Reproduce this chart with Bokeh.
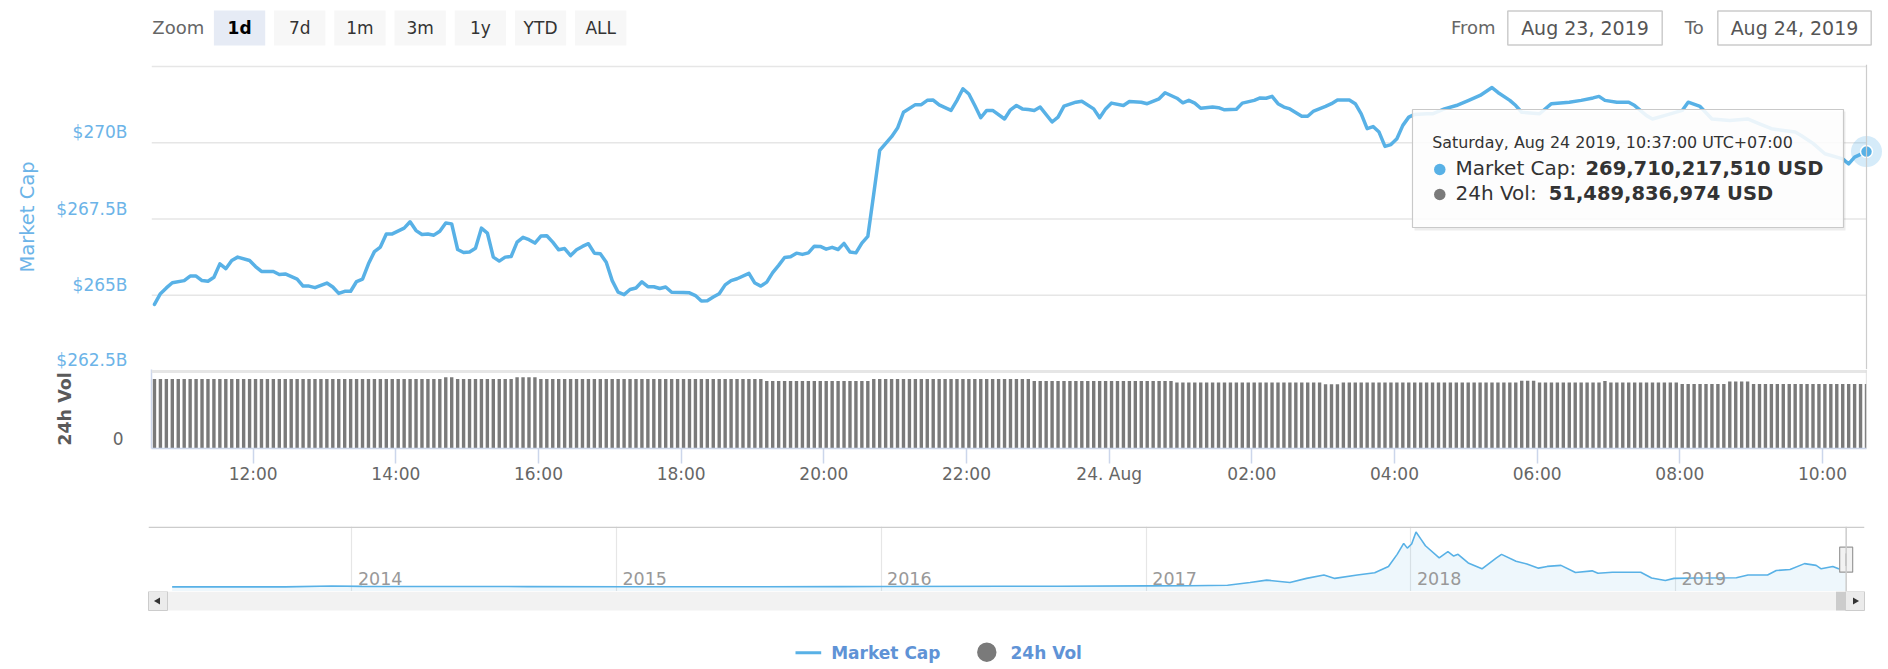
import datetime as dt
from bokeh.plotting import figure
from bokeh.models import (Range1d, FixedTicker, LabelSet, ColumnDataSource, Span, Grid, LinearAxis)
from bokeh.layouts import column
from bokeh.embed import file_html
from bokeh.resources import INLINE
from bokeh.core.properties import value

# ------------------------------------------------------------------ data
start_time = dt.datetime(2019, 8, 23, 10, 37)   # first point (UTC+07:00 local)
end_time = dt.datetime(2019, 8, 24, 10, 37)

# market cap (billions USD), minutes after start_time
mcap_offset_min = [
    0, 5, 10, 15, 25, 30, 35, 40, 45, 50, 55, 60, 65, 70, 80, 85, 90, 100, 105, 110,
    120, 125, 130, 135, 145, 150, 155, 160, 165, 170, 175, 180, 185, 190, 195, 200,
    210, 215, 220, 225, 230, 235, 240, 245, 250, 255, 260, 265, 270, 275, 280, 285,
    290, 295, 300, 305, 310, 315, 320, 325, 330, 335, 340, 345, 350, 355, 360, 365,
    370, 375, 380, 385, 390, 395, 400, 405, 410, 415, 420, 425, 430, 435, 445, 450,
    455, 460, 465, 470, 475, 480, 485, 490, 500, 505, 510, 515, 520, 525, 530, 535,
    540, 545, 550, 555, 560, 565, 570, 575, 580, 585, 590, 595, 600, 605, 610, 620,
    625, 630, 640, 645, 650, 655, 660, 670, 675, 680, 685, 690, 695, 700, 705, 715,
    720, 725, 730, 735, 740, 745, 755, 760, 765, 775, 780, 790, 795, 800, 805, 815,
    820, 830, 835, 845, 850, 860, 865, 870, 875, 880, 890, 895, 900, 910, 915, 925,
    930, 935, 940, 945, 950, 955, 965, 970, 975, 985, 990, 995, 1005, 1010, 1015, 1020,
    1025, 1030, 1035, 1040, 1045, 1050, 1055, 1060, 1070, 1075, 1085, 1095, 1100, 1105,
    1115, 1125, 1130, 1140, 1145, 1150, 1165, 1175, 1190, 1200, 1210, 1215, 1220, 1230,
    1240, 1245, 1255, 1260, 1270, 1285, 1290, 1300, 1310, 1325, 1340, 1350, 1360, 1380,
    1385, 1395, 1405, 1420, 1425, 1430, 1440,
]
mcap_billion = [
    264.70, 265.05, 265.24, 265.41, 265.48, 265.63, 265.63, 265.48, 265.46, 265.59, 266.03, 265.87, 266.14, 266.25, 266.14, 265.94, 265.78, 265.78, 265.68, 265.70,
    265.53, 265.30, 265.30, 265.25, 265.40, 265.27, 265.06, 265.13, 265.13, 265.45, 265.53, 266.03, 266.43, 266.58, 267.01, 267.01,
    267.20, 267.41, 267.12, 266.99, 267.01, 266.97, 267.10, 267.37, 267.34, 266.50, 266.40, 266.42, 266.54, 267.20, 267.04, 266.25,
    266.12, 266.25, 266.27, 266.74, 266.90, 266.82, 266.71, 266.94, 266.95, 266.74, 266.49, 266.53, 266.30, 266.49, 266.60, 266.69,
    266.38, 266.36, 266.08, 265.48, 265.10, 265.02, 265.19, 265.24, 265.44, 265.28, 265.28, 265.22, 265.27, 265.10, 265.09, 265.08,
    264.99, 264.81, 264.82, 264.94, 265.05, 265.34, 265.48, 265.54, 265.72, 265.40, 265.30, 265.43, 265.74, 265.98, 266.24, 266.26,
    266.38, 266.34, 266.39, 266.61, 266.60, 266.51, 266.57, 266.50, 266.70, 266.42, 266.39, 266.71, 266.93, 268.33, 269.75, 270.20,
    270.48, 271.00, 271.25, 271.25, 271.39, 271.40, 271.24, 271.06, 271.39, 271.77, 271.60, 271.22, 270.82, 271.06, 271.06, 270.78,
    271.08, 271.22, 271.11, 271.09, 271.06, 271.17, 270.68, 270.84, 271.20, 271.33, 271.36, 271.11, 270.82, 271.11, 271.30, 271.22,
    271.35, 271.33, 271.28, 271.44, 271.64, 271.46, 271.31, 271.39, 271.30, 271.13, 271.17, 271.15, 271.08, 271.10, 271.30, 271.39,
    271.47, 271.46, 271.52, 271.28, 271.17, 271.11, 270.87, 270.87, 271.04, 271.19, 271.28, 271.40, 271.40, 271.28, 270.95, 270.46,
    270.53, 270.35, 269.88, 269.94, 270.13, 270.57, 270.84, 270.93, 270.95, 270.95, 271.11, 271.22, 271.30, 271.38,
    271.55, 271.81, 271.65, 271.39, 271.22, 271.00, 270.95, 271.28, 271.33, 271.39, 271.47, 271.52, 271.39, 271.33,
    271.33, 271.22, 270.89, 270.78, 270.89, 271.06, 271.33, 271.19, 270.78, 270.73, 270.78, 270.62, 270.46, 270.35,
    270.24, 269.98, 269.64, 269.47, 269.31, 269.53, 269.710217510,
]

# 24h volume (billions USD), one bar every 5 minutes from start_time
vol_step_min = 5
vol_billion = [
    55.4, 55.4, 55.4, 55.4, 55.4, 55.4, 55.4, 55.4, 55.4, 55.4, 55.4, 55.4,
    55.4, 55.4, 55.4, 55.4, 55.4, 55.4, 55.4, 55.4, 55.4, 55.4, 55.4, 55.4,
    55.4, 55.4, 55.4, 55.4, 55.4, 55.4, 55.4, 55.4, 55.4, 55.4, 55.4, 55.4,
    55.4, 55.4, 55.4, 55.4, 55.4, 55.4, 55.4, 55.4, 55.4, 55.4, 55.4, 55.4,
    55.4, 56.8, 56.8, 55.4, 55.4, 55.4, 55.4, 55.4, 55.4, 55.4, 55.4, 55.4,
    55.4, 56.8, 56.8, 56.8, 56.8, 55.4, 55.4, 55.4, 55.4, 55.4, 55.4, 55.4,
    55.4, 55.4, 55.4, 55.4, 55.4, 55.4, 55.4, 55.4, 55.4, 55.4, 55.4, 55.4,
    55.4, 55.4, 55.4, 55.4, 55.4, 55.4, 55.4, 55.4, 55.4, 55.4, 55.4, 55.4,
    55.4, 55.4, 55.4, 55.4, 55.4, 55.4, 55.4, 53.9, 53.9, 53.9, 53.9, 53.9,
    53.9, 53.9, 53.9, 53.9, 53.9, 53.9, 53.9, 53.9, 53.9, 53.9, 53.9, 53.9,
    53.9, 55.4, 55.4, 55.4, 55.4, 55.4, 55.4, 55.4, 55.4, 55.4, 55.4, 55.4,
    55.4, 55.4, 55.4, 55.4, 55.4, 55.4, 55.4, 55.4, 55.4, 55.4, 55.4, 55.4,
    55.4, 55.4, 55.4, 55.4, 53.9, 53.9, 53.9, 53.9, 53.9, 53.9, 53.9, 53.9,
    53.9, 53.9, 53.9, 53.9, 53.9, 53.9, 53.9, 53.9, 53.9, 53.9, 53.9, 53.9,
    53.9, 53.9, 53.9, 53.9, 52.6, 52.6, 52.6, 52.6, 52.6, 52.6, 52.6, 52.6,
    52.6, 52.6, 52.6, 52.6, 52.6, 52.6, 52.6, 52.6, 52.6, 52.6, 52.6, 52.6,
    52.6, 52.6, 52.6, 52.6, 52.6, 51.3, 51.3, 51.3, 52.6, 52.6, 52.6, 52.6,
    52.6, 52.6, 52.6, 52.6, 52.6, 52.6, 52.6, 52.6, 52.6, 52.6, 52.6, 52.6,
    52.6, 52.6, 52.6, 52.6, 52.6, 52.6, 52.6, 52.6, 52.6, 52.6, 52.6, 52.6,
    52.6, 52.6, 54.0, 54.0, 54.0, 52.6, 52.6, 52.6, 52.6, 52.6, 52.6, 52.6,
    52.6, 52.6, 52.6, 52.6, 53.8, 52.6, 52.6, 52.6, 52.6, 52.6, 52.6, 52.6,
    52.6, 52.6, 52.6, 52.6, 52.6, 51.5, 51.5, 51.5, 51.5, 51.5, 51.5, 51.5,
    51.5, 53.5, 53.5, 53.5, 53.5, 51.5, 51.5, 51.5, 51.5, 51.5, 51.5, 51.5,
    51.5, 51.5, 51.5, 51.5, 51.5, 51.5, 51.5, 51.5, 51.5, 51.5, 51.5, 51.5,
    51.49,
]

tooltip_mcap_usd = 269710217510
tooltip_vol_usd = 51489836974

y_ticks = [262.5, 265.0, 267.5, 270.0]
y_tick_labels = ["$262.5B", "$265B", "$267.5B", "$270B"]
y_grid_ticks = [262.5, 265.0, 267.5, 270.0, 272.5]
vol_ticks = [0.0]
vol_tick_labels = ["0"]

x_tick_times = [
    dt.datetime(2019, 8, 23, 12), dt.datetime(2019, 8, 23, 14), dt.datetime(2019, 8, 23, 16),
    dt.datetime(2019, 8, 23, 18), dt.datetime(2019, 8, 23, 20), dt.datetime(2019, 8, 23, 22),
    dt.datetime(2019, 8, 24, 0), dt.datetime(2019, 8, 24, 2), dt.datetime(2019, 8, 24, 4),
    dt.datetime(2019, 8, 24, 6), dt.datetime(2019, 8, 24, 8), dt.datetime(2019, 8, 24, 10),
]
x_tick_labels = ["12:00", "14:00", "16:00", "18:00", "20:00", "22:00", "24. Aug",
                 "02:00", "04:00", "06:00", "08:00", "10:00"]

# navigator: total market cap history (billions USD)
nav_dates = [
    "2013-04-28", "2013-10-01", "2013-12-04", "2014-01-15", "2014-03-01", "2014-06-01",
    "2014-09-01", "2015-01-15", "2015-06-01", "2015-11-05", "2016-01-01", "2016-06-18",
    "2016-09-01", "2017-01-01", "2017-03-01", "2017-04-23", "2017-05-24", "2017-06-16",
    "2017-07-18", "2017-08-10", "2017-09-03", "2017-09-18", "2017-10-19", "2017-11-12",
    "2017-12-01", "2017-12-13", "2017-12-22", "2017-12-27", "2018-01-02", "2018-01-08",
    "2018-01-15", "2018-01-21", "2018-02-09", "2018-02-21", "2018-03-01", "2018-03-07",
    "2018-03-21", "2018-04-09", "2018-04-29", "2018-05-06", "2018-05-26", "2018-06-10",
    "2018-06-26", "2018-07-08", "2018-07-27", "2018-08-16", "2018-09-08", "2018-09-16",
    "2018-10-06", "2018-11-14", "2018-11-29", "2018-12-18", "2018-12-30", "2019-01-31",
    "2019-03-26", "2019-04-11", "2019-05-08", "2019-05-20", "2019-06-08", "2019-06-28",
    "2019-07-14", "2019-07-21", "2019-08-06", "2019-08-14", "2019-08-24",
]
nav_billion = [
    1.5, 2, 14, 10, 7, 8,
    6, 3.5, 3.6, 6, 7, 12,
    11, 17, 20, 26, 67, 104,
    67, 130, 182, 130, 182, 216,
    310, 493, 659, 587, 649, 830,
    720, 623, 441, 534, 467, 493,
    363, 275, 441, 493, 389, 347,
    285, 311, 327, 218, 244, 207,
    223, 223, 135, 98, 130, 135,
    140, 182, 182, 249, 265, 353,
    327, 275, 311, 275, 270,
]
nav_years = [2014, 2015, 2016, 2017, 2018, 2019]

zoom_buttons = ["1d", "7d", "1m", "3m", "1y", "YTD", "ALL"]
selected_button = "1d"
range_from = "Aug 23, 2019"
range_to = "Aug 24, 2019"
series_names = ["Market Cap", "24h Vol"]

# ------------------------------------------------------------------ helpers / style
EPOCH = dt.datetime(1970, 1, 1)


def ms(t):
    return (t - EPOCH).total_seconds() * 1000.0


W = 1888
FONT = "DejaVu Sans"
LINE = "#58b1e6"
BLUE_TXT = "#6cb4e8"
GRAY_TXT = "#666666"
DARK_TXT = "#333333"
VOL_COLOR = "#7a7a7a"
GRID = "#e6e6e6"
AXIS = "#ccd6eb"
LEGEND_TXT = "#5f93d6"

mcap_times = [start_time + dt.timedelta(minutes=m) for m in mcap_offset_min]
vol_times = [start_time + dt.timedelta(minutes=vol_step_min * i) for i in range(len(vol_billion))]


def bare(p):
    p.outline_line_color = None
    p.background_fill_color = "white"
    p.border_fill_color = "white"
    for g in p.grid:
        g.visible = False
    return p


def common(**kw):
    base = dict(width=W, toolbar_location=None, output_backend="svg", frame_align=False)
    base.update(kw)
    return base


# ------------------------------------------------------------------ top bar (range selector)
top = figure(**common(height=56, x_range=Range1d(0, W), y_range=Range1d(56, 0),
                      x_axis_location=None, y_axis_location=None, min_border=0))
bare(top)
top.text(x=[151.8], y=[27.0], text=["Zoom"], text_font=value(FONT), text_font_size="18px",
         text_color=GRAY_TXT, text_align="left", text_baseline="middle")
b_left0, b_w, b_pitch = 213.4, 51.3, 60.2
lefts = [b_left0 + i * b_pitch for i in range(len(zoom_buttons))]
fills = ["#e6ebf5" if b == selected_button else "#f7f7f7" for b in zoom_buttons]
top.quad(left=lefts, right=[l + b_w for l in lefts], top=10, bottom=45,
         fill_color=fills, line_color=None)
for l, b in zip(lefts, zoom_buttons):
    sel = b == selected_button
    top.text(x=[l + b_w / 2], y=[27.5], text=[b], text_font=value(FONT), text_font_size="17px",
             text_font_style="bold" if sel else "normal",
             text_color="#000000" if sel else DARK_TXT, text_align="center", text_baseline="middle")
top.text(x=[1495], y=[27.0], text=["From"], text_font=value(FONT), text_font_size="18px",
         text_color=GRAY_TXT, text_align="right", text_baseline="middle")
top.text(x=[1703.3], y=[27.0], text=["To"], text_font=value(FONT), text_font_size="18px",
         text_color=GRAY_TXT, text_align="right", text_baseline="middle")
top.quad(left=[1507.3, 1717.3], right=[1661.7, 1870.7], top=10.5, bottom=44.5,
         fill_color="white", line_color="#cccccc", line_width=1.5)
top.text(x=[1584.5, 1794.0], y=[27.5, 27.5], text=[range_from, range_to], text_font=value(FONT),
         text_font_size="19px", text_color="#555555", text_align="center", text_baseline="middle")

# ------------------------------------------------------------------ pane geometry (page px)
FRAME_L, FRAME_R = 151, 1866
MAIN_MIN, MAIN_MAX = 262.5, 272.5
GRID_TOP_PX, GRID_BOT_PX = 66.0, 371.0          # where 272.5 and 262.5 fall
MAIN_FIG_TOP, MAIN_FRAME_TOP, SPLIT_PX = 56, 64, 369
VOL_BASE_PX, VOL_TOP_PX, VOL_FIG_BOT = 448.0, 371.0, 500
VOL_MAX = 61.4                                    # value at the top of the volume pane
LABEL_LIFT_PX = 10.4                              # labels sit above their grid lines
px_per_b = (GRID_BOT_PX - GRID_TOP_PX) / (MAIN_MAX - MAIN_MIN)
main_lo = MAIN_MIN + (GRID_BOT_PX - SPLIT_PX) / px_per_b
main_hi = MAIN_MAX + (GRID_TOP_PX - MAIN_FRAME_TOP) / px_per_b
lift_b = LABEL_LIFT_PX / px_per_b
vol_px_per_b = (VOL_BASE_PX - VOL_TOP_PX) / VOL_MAX
vol_hi = (VOL_BASE_PX - SPLIT_PX) / vol_px_per_b
vol_lift = LABEL_LIFT_PX / vol_px_per_b

x_start = start_time - dt.timedelta(minutes=2.5)
x_range = Range1d(x_start, end_time)
# the price pane frame runs to the page edge so the hover halo is not cut
px_per_ms = (FRAME_R - FRAME_L) / (ms(end_time) - ms(x_start))
main_x_end = end_time + dt.timedelta(milliseconds=(W - FRAME_R) / px_per_ms)
main_x_range = Range1d(x_start, main_x_end)

# ------------------------------------------------------------------ price pane
p = figure(**common(height=SPLIT_PX - MAIN_FIG_TOP, x_axis_type="datetime", x_range=main_x_range,
                    y_range=Range1d(main_lo, main_hi), x_axis_location=None, y_axis_location=None,
                    min_border_left=FRAME_L, min_border_right=0,
                    min_border_top=MAIN_FRAME_TOP - MAIN_FIG_TOP, min_border_bottom=0))
bare(p)
p.extra_y_ranges = {"lab": Range1d(main_lo - lift_b, main_hi - lift_b),
                    "px": Range1d(SPLIT_PX, MAIN_FRAME_TOP)}
p.extra_x_ranges = {"px": Range1d(FRAME_L, W)}
# horizontal grid lines (stop at the end of the time axis)
p.segment(x0=[x_start] * len(y_grid_ticks), x1=[end_time] * len(y_grid_ticks),
          y0=y_grid_ticks, y1=y_grid_ticks, line_color=GRID, line_width=1.5)
yax = LinearAxis(y_range_name="lab", ticker=FixedTicker(ticks=y_ticks),
                 major_label_overrides={t: s for t, s in zip(y_ticks, y_tick_labels)},
                 axis_line_color=None, major_tick_line_color=None, minor_tick_line_color=None,
                 major_tick_out=0, major_tick_in=0, major_label_standoff=24,
                 major_label_text_font=FONT, major_label_text_font_size="17px",
                 major_label_text_color=BLUE_TXT,
                 axis_label=series_names[0], axis_label_standoff=14,
                 axis_label_text_font=FONT, axis_label_text_font_size="19.5px",
                 axis_label_text_font_style="normal", axis_label_text_color=BLUE_TXT)
p.add_layout(yax, "left")

msrc = ColumnDataSource(dict(x=mcap_times, y=mcap_billion))
p.line(x="x", y="y", source=msrc, line_color=LINE, line_width=3.5,
       line_join="round", line_cap="round")

p.add_layout(Span(location=ms(mcap_times[-1]), dimension="height", line_color="#cccccc", line_width=1.2))
p.scatter(x=[mcap_times[-1]], y=[mcap_billion[-1]], size=31, marker="circle",
          fill_color=LINE, fill_alpha=0.25, line_color=None)
p.scatter(x=[mcap_times[-1]], y=[mcap_billion[-1]], size=12, marker="circle",
          fill_color=LINE, line_color="white", line_width=1.5)

# tooltip
tt_l, tt_r, tt_t, tt_b = 1412, 1843, 109, 227
p.quad(left=[tt_l + 2], right=[tt_r + 2], top=[tt_t + 2], bottom=[tt_b + 3], x_range_name="px",
       y_range_name="px", fill_color="black", fill_alpha=0.07, line_color=None)
p.quad(left=[tt_l], right=[tt_r], top=[tt_t], bottom=[tt_b], x_range_name="px", y_range_name="px",
       fill_color="white", fill_alpha=0.88, line_color="#c9c9c9", line_width=1.2)
header = end_time.strftime("%A, %b %d %Y, %H:%M:%S") + " UTC+07:00"
p.text(x=[1431.7], y=[142.3], text=[header], x_range_name="px", y_range_name="px",
       text_font=value(FONT), text_font_size="15.9px", text_color=DARK_TXT,
       text_baseline="middle")
p.scatter(x=[1439.3, 1439.3], y=[169, 194], size=11.5, marker="circle", x_range_name="px",
          y_range_name="px", fill_color=[LINE, VOL_COLOR], line_color=None)
p.text(x=[1455, 1455], y=[167.5, 192.5], text=[series_names[0] + ":", series_names[1] + ":"],
       x_range_name="px", y_range_name="px", text_font=value(FONT), text_font_size="20px",
       text_color=DARK_TXT, text_baseline="middle")
p.text(x=[1585, 1548.3], y=[167.5, 192.5],
       text=[f"{tooltip_mcap_usd:,} USD", f"{tooltip_vol_usd:,} USD"],
       x_range_name="px", y_range_name="px", text_font=value(FONT), text_font_size="19.5px",
       text_font_style="bold", text_color=DARK_TXT, text_baseline="middle")

# ------------------------------------------------------------------ volume pane + time axis
v = figure(**common(height=VOL_FIG_BOT - SPLIT_PX, x_axis_type="datetime", x_range=x_range,
                    y_range=Range1d(0, vol_hi), y_axis_location=None,
                    min_border_left=FRAME_L, min_border_right=W - FRAME_R,
                    min_border_top=0, min_border_bottom=int(VOL_FIG_BOT - VOL_BASE_PX)))
v.outline_line_color = None
v.xgrid.visible = False
v.ygrid.visible = False
v.extra_y_ranges = {"lab": Range1d(-vol_lift, vol_hi - vol_lift)}
vax = LinearAxis(y_range_name="lab", ticker=FixedTicker(ticks=vol_ticks),
                 major_label_overrides={t: s for t, s in zip(vol_ticks, vol_tick_labels)},
                 axis_line_color=AXIS, axis_line_width=1.5, major_tick_line_color=None,
                 minor_tick_line_color=None, major_tick_out=0, major_tick_in=0,
                 major_label_standoff=28, major_label_text_font=FONT,
                 major_label_text_font_size="17px", major_label_text_color=GRAY_TXT,
                 axis_label=series_names[1], axis_label_standoff=35,
                 axis_label_text_font=FONT, axis_label_text_font_size="17.5px",
                 axis_label_text_font_style="bold", axis_label_text_color="#5a5a5a")
v.add_layout(vax, "left")
v.add_layout(Span(location=VOL_MAX, dimension="width", line_color=GRID, line_width=3))

x_tick_ms = [ms(t) for t in x_tick_times]
ax = v.xaxis[0]
ax.ticker = FixedTicker(ticks=x_tick_ms)
ax.major_label_overrides = {t: lab for t, lab in zip(x_tick_ms, x_tick_labels)}
ax.axis_line_color = AXIS
ax.axis_line_width = 1.5
ax.major_tick_line_color = AXIS
ax.major_tick_line_width = 1.5
ax.major_tick_out = 15
ax.major_tick_in = 0
ax.minor_tick_line_color = None
ax.major_label_standoff = 0
ax.major_label_text_font = FONT
ax.major_label_text_font_size = "17px"
ax.major_label_text_color = GRAY_TXT

vsrc = ColumnDataSource(dict(x=vol_times, top=vol_billion))
v.vbar(x="x", top="top", bottom=0, width=vol_step_min * 60 * 1000 * 0.57, source=vsrc,
       fill_color=VOL_COLOR, line_color=None)
v.add_layout(Span(location=ms(mcap_times[-1]), dimension="height", line_color="#cccccc", line_width=1.2))

# ------------------------------------------------------------------ navigator
PX_PER_DAY = (1675.0 - 351.4) / (dt.date(2019, 1, 1) - dt.date(2014, 1, 1)).days
ref_day = dt.datetime(2014, 1, 1)
NAV_L, NAV_R = 148.0, 1864.0
nav_x0 = ref_day - dt.timedelta(days=(351.4 - NAV_L) / PX_PER_DAY)
nav_x1 = ref_day + dt.timedelta(days=(NAV_R - 351.4) / PX_PER_DAY)
NAV_FIG_TOP, NAV_TOP, NAV_BOT = 500, 526.0, 591.0
NAV_ZERO_PX, NAV_PX_PER_B = 586.5, 0.0662
nav_lo = -(NAV_BOT - NAV_ZERO_PX) / NAV_PX_PER_B
nav_hi = (NAV_ZERO_PX - NAV_TOP) / NAV_PX_PER_B

nav = figure(**common(height=int(NAV_BOT - NAV_FIG_TOP), x_axis_type="datetime",
                      x_range=Range1d(nav_x0, nav_x1), y_range=Range1d(nav_lo, nav_hi),
                      x_axis_location=None, y_axis_location=None,
                      min_border_left=int(NAV_L), min_border_right=int(W - NAV_R),
                      min_border_top=int(NAV_TOP - NAV_FIG_TOP), min_border_bottom=0))
bare(nav)
nav.extra_x_ranges = {"px": Range1d(NAV_L, NAV_R)}
nav.extra_y_ranges = {"px": Range1d(NAV_BOT, NAV_TOP)}
year_dt = [dt.datetime(y, 1, 1) for y in nav_years]
nav.add_layout(Grid(dimension=0, ticker=FixedTicker(ticks=[ms(t) for t in year_dt]),
                    grid_line_color=GRID, grid_line_width=1.2))
nav_dt = [dt.datetime.strptime(d, "%Y-%m-%d") for d in nav_dates]
nsrc = ColumnDataSource(dict(x=nav_dt, y=nav_billion))
nav.varea(x="x", y1=nav_lo, y2="y", source=nsrc, fill_color=LINE, fill_alpha=0.1)
nav.line(x="x", y="y", source=nsrc, line_color=LINE, line_width=1.6)
ysrc = ColumnDataSource(dict(x=year_dt, y=[578.0] * len(year_dt), text=[str(y) for y in nav_years]))
nav.add_layout(LabelSet(x="x", y="y", text="text", source=ysrc, y_range_name="px", x_offset=6,
                        text_baseline="middle", text_font=value(FONT), text_font_size="17.5px",
                        text_color="#999999"))
nav.segment(x0=[NAV_L], x1=[NAV_R], y0=[NAV_TOP + 0.8], y1=[NAV_TOP + 0.8], x_range_name="px",
            y_range_name="px", line_color="#cccccc", line_width=1.5)
nav.add_layout(Span(location=ms(end_time), dimension="height", line_color="#cccccc", line_width=1.5))
nav.rect(x=[end_time], y=[559.2], width=13, height=25, width_units="screen", height_units="screen",
         y_range_name="px", fill_color="#f2f2f2", line_color="#999999", line_width=1.2)
nav.segment(x0=[end_time, end_time], x1=[end_time, end_time], y0=[553, 553], y1=[565.5, 565.5],
            y_range_name="px", line_color="#999999", line_width=1)

# ------------------------------------------------------------------ scrollbar + legend
BOT_TOP, BOT_BOT = 591, 669
bot = figure(**common(height=BOT_BOT - BOT_TOP, x_range=Range1d(0, W), y_range=Range1d(BOT_BOT, BOT_TOP),
                      x_axis_location=None, y_axis_location=None, min_border=0))
bare(bot)
bot.quad(left=[NAV_L], right=[NAV_R], top=[591], bottom=[610], fill_color="#f2f2f2", line_color=None)
bot.quad(left=[1835.5], right=[1845.0], top=[591], bottom=[610], fill_color="#cccccc", line_color=None)
bot.quad(left=[NAV_L, NAV_R - 19], right=[NAV_L + 19, NAV_R], top=[591, 591], bottom=[610, 610],
         fill_color="#ebebeb", line_color="#cccccc", line_width=1)
bot.scatter(x=[NAV_L + 9.5, NAV_R - 9.5], y=[600.5, 600.5], marker="triangle", size=7,
            angle=[1.5708, -1.5708], fill_color="#333333", line_color=None)
bot.segment(x0=[795], x1=[820.7], y0=[652.3], y1=[652.3], line_color=LINE, line_width=3)
bot.scatter(x=[986.3], y=[651.7], size=19.4, marker="circle", fill_color=VOL_COLOR, line_color=None)
bot.text(x=[830.7, 1010.0], y=[652.3, 652.3], text=series_names, text_font=value(FONT),
         text_font_size="17px", text_font_style="bold", text_color=LEGEND_TXT, text_baseline="middle")

layout = column(top, p, v, nav, bot, spacing=0)
open("out.html", "w").write(file_html(layout, INLINE))
